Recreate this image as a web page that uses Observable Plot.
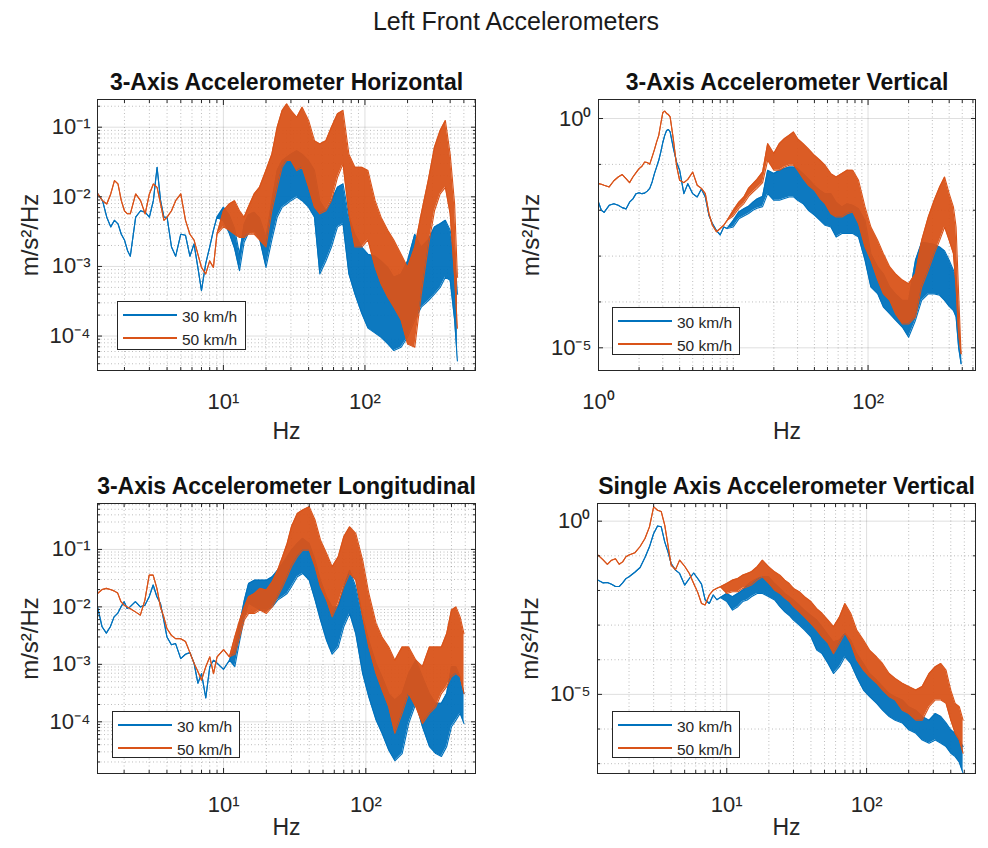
<!DOCTYPE html>
<html>
<head>
<meta charset="utf-8">
<script src="https://cdn.jsdelivr.net/npm/d3@7"></script>
<script src="https://cdn.jsdelivr.net/npm/@observablehq/plot@0.6"></script>
<style>
  html, body { margin: 0; padding: 0; background: #fff; }
  #page { position: relative; width: 988px; height: 848px; overflow: hidden; font-family: "Liberation Sans", Arial, Helvetica, sans-serif; color: #1a1a1a; }
  #title { position: absolute; left: 216px; width: 600px; top: 9px; text-align: center; font-size: 25px; line-height: 25px; }
  .panel { position: absolute; }
  .legend { position: absolute; box-sizing: border-box; border: 1px solid #262626; background: #fff; }
  .legend .sw { position: absolute; left: 5px; width: 54px; height: 1.6px; }
  .legend .lb { position: absolute; left: 64px; font-size: 15.5px; line-height: 16px; color: #262626; white-space: nowrap; }
</style>
</head>
<body>
<div id="page"><div id="title"></div></div>
<script>
// ---------- texts ----------
const figureTitle = "Left Front Accelerometers";
const panelTitles = ["3-Axis Accelerometer Horizontal", "3-Axis Accelerometer Vertical",
                     "3-Axis Accelerometer Longitudinal", "Single Axis Accelerometer Vertical"];
const seriesNames = ["30 km/h", "50 km/h"];
const seriesColors = ["#0072BD", "#D95319"];
const xLabel = "Hz";
const yLabel = "m/s²/Hz";

// ---------- tick values ----------
const xTicksHoriz = [10, 100];
const yTicksHoriz = [1e-1, 1e-2, 1e-3, 1e-4];
const xTicksVert = [1, 100];
const yTicksVert = [1, 1e-5];
const xTicksLong = [10, 100];
const yTicksLong = [1e-1, 1e-2, 1e-3, 1e-4];
const xTicksSingle = [10, 100];
const yTicksSingle = [1, 1e-5];

// ---------- data: PSD (m/s²/Hz), upper / lower envelope of the trace ----------
// Panel 1: 3-Axis Horizontal
const hzHoriz = [1.3,1.4,1.5,1.6,1.7,1.8,1.9,2.0,2.1,2.2, 2.4,2.6,2.8,3.0,3.2,3.4,3.6,3.8,4.0,
  4.3,4.6,5.0,5.4,5.8,6.2,6.6,7.0,7.5,8.0,8.5,9, 10,11,12,13,14,15,16.5,18,20,
  22,24,26,28,30,33,36,40,44,48, 53,58,64,70,77,85,95,105,118,130,
  145,160,180,200,225,250,280,310,340,370, 400,430,450];
const horiz30Hi = [0.011,0.0088,0.0051,0.0037,0.0046,0.0041,0.0029,0.0024,0.0017,0.0014,
  0.0051,0.0063,0.006,0.0051,0.0088,0.0266,0.0088,0.0051,0.0051,
  0.0019,0.0014,0.0029,0.0028,0.0014,0.0021,0.00097,0.00045,0.0011,0.0019,0.0033,0.0051,
  0.0071,0.0055,0.0035,0.0015,0.004,0.0055,0.006,0.005,0.0026,
  0.0088,0.024,0.033,0.037,0.041,0.046,0.041,0.033,0.024,0.0088,
  0.0063,0.0088,0.0137,0.0153,0.0051,0.0029,0.0019,0.0015,0.0014,0.0012,
  0.00097,0.0007,0.00078,0.0012,0.0029,0.0019,0.0024,0.0037,0.0041,0.0046,
  0.0033,0.0015,0.0004];
const horiz30Lo = [0.011,0.0088,0.0051,0.0037,0.0046,0.0041,0.0029,0.0024,0.0017,0.0014,
  0.0051,0.0063,0.006,0.0051,0.0088,0.0266,0.0088,0.0051,0.0051,
  0.0019,0.0014,0.0029,0.0028,0.0014,0.0021,0.00097,0.00045,0.0011,0.0019,0.0033,0.0051,
  0.0045,0.003,0.0018,0.00087,0.0022,0.003,0.0033,0.0025,0.00097,
  0.0024,0.0051,0.0071,0.0079,0.0088,0.0099,0.0088,0.0071,0.0051,0.00078,
  0.0012,0.0019,0.0037,0.0041,0.00078,0.0004,0.00021,0.00013,0.00011,0.000096,
  0.000077,0.000062,0.000069,0.000096,0.00017,0.00026,0.00032,0.0004,0.0005,0.0007,
  0.00063,0.00017,0.000044];
const horiz50Hi = [0.011,0.0088,0.0079,0.011,0.0171,0.0153,0.0088,0.0063,0.0057,0.0057,
  0.011,0.0088,0.0057,0.011,0.0153,0.0137,0.0079,0.0046,0.0051,
  0.0063,0.0088,0.011,0.0046,0.0029,0.0024,0.0015,0.00097,0.00078,0.0012,0.00097,0.0029,
  0.0063,0.0079,0.0088,0.0063,0.0051,0.0071,0.011,0.0137,0.024,
  0.041,0.1,0.174,0.216,0.174,0.139,0.194,0.125,0.064,0.0575,
  0.064,0.1,0.156,0.174,0.041,0.0266,0.0266,0.0238,0.0088,0.0051,
  0.0033,0.0024,0.0015,0.00097,0.0019,0.0057,0.0171,0.0516,0.0896,0.125,
  0.041,0.0079,0.0007];
const horiz50Lo = [0.011,0.0088,0.0079,0.011,0.0171,0.0153,0.0088,0.0063,0.0057,0.0057,
  0.011,0.0088,0.0057,0.011,0.0153,0.0137,0.0079,0.0046,0.0051,
  0.0063,0.0088,0.011,0.0046,0.0029,0.0024,0.0015,0.00097,0.00078,0.0012,0.00097,0.0029,
  0.0037,0.0033,0.0029,0.0026,0.0026,0.0029,0.0029,0.0024,0.0019,
  0.0063,0.0137,0.0266,0.0332,0.0332,0.0238,0.0266,0.0137,0.0071,0.0057,
  0.0063,0.0088,0.0191,0.0297,0.0057,0.0019,0.0019,0.0024,0.00097,0.00056,
  0.00036,0.00026,0.00017,0.000077,0.000069,0.0004,0.0019,0.0063,0.011,0.0137,
  0.0057,0.0007,0.00013];

// Panel 2: 3-Axis Vertical
const hzVert = [1.0,1.05,1.1,1.2,1.3,1.4,1.5,1.6,1.7,1.8, 1.9,2.0,2.1,2.2,2.3,2.4,2.5,2.6,2.7,2.8,
  2.9,3.0,3.1,3.2,3.3,3.4,3.6,3.8,4.0,4.3, 4.6,5.0,5.4,5.8,6.2,6.6,7.0,7.5,8.0,8.5,
  9,10,11,12,13,14,15,16.5, 18,20,22,24,26,28,30,33,36,40,
  44,48,53,58,64,70,77,85,95,105, 118,130,145,160,180,200,225,250,280,310,
  340,370,400,430,450,470,490];
const vert30Hi = [0.015,0.01,0.009,0.0128,0.0139,0.0128,0.0114,0.0107,0.015,0.0177,
  0.023,0.0241,0.023,0.0236,0.0262,0.03,0.0414,0.063,0.088,0.123,
  0.187,0.3,0.43,0.547,0.575,0.51,0.22,0.11,0.0745,0.023,
  0.038,0.023,0.0195,0.029,0.0195,0.0077,0.0051,0.0036,0.0029,0.0043,
  0.004,0.006,0.0092,0.0108,0.0122,0.015,0.0175,0.02,
  0.0745,0.063,0.0745,0.081,0.088,0.088,0.081,0.063,0.049,0.035,
  0.0272,0.023,0.023,0.015,0.0118,0.0139,0.0128,0.0108,0.006,0.00113,
  0.00058,0.00041,0.00021,0.00015,0.000108,0.000108,0.00081,0.002,0.0019,0.0018,
  0.00158,0.0013,0.00081,0.00049,0.00035,0.00004,0.0000045];
const vert30Lo = [0.015,0.01,0.009,0.0128,0.0139,0.0128,0.0114,0.0107,0.015,0.0177,
  0.023,0.0241,0.023,0.0236,0.0262,0.03,0.0414,0.063,0.088,0.123,
  0.187,0.3,0.43,0.547,0.575,0.51,0.22,0.11,0.0745,0.023,
  0.038,0.023,0.0195,0.029,0.0195,0.0077,0.0051,0.0036,0.0029,0.0043,
  0.004,0.0043,0.0065,0.0075,0.0085,0.01,0.011,0.012,
  0.023,0.0165,0.0165,0.018,0.0195,0.0195,0.0165,0.0139,0.01,0.0078,
  0.006,0.0047,0.0043,0.0026,0.0031,0.0031,0.0031,0.0026,0.00081,0.00021,
  0.00015,0.000077,0.000055,0.00004,0.000028,0.000017,0.00004,0.000108,0.00015,0.00015,
  0.00014,0.000108,0.00008,0.000065,0.000047,0.00001,0.0000045];
const vert50Hi = [0.0381,0.037,0.035,0.0322,0.044,0.053,0.06,0.049,0.04,0.053,
  0.066,0.081,0.091,0.113,0.11,0.101,0.146,0.21,0.31,0.43,
  0.78,1.35,1.45,1.29,1.22,1.09,0.336,0.092,0.045,0.04,
  0.047,0.068,0.035,0.03,0.023,0.0084,0.0047,0.0034,0.004,0.0047,
  0.006,0.01,0.015,0.0195,0.03,0.038,0.047,0.068,
  0.284,0.172,0.284,0.365,0.43,0.51,0.365,0.284,0.22,0.158,
  0.123,0.096,0.063,0.053,0.063,0.0745,0.0745,0.045,0.0118,0.0043,
  0.0022,0.00113,0.00058,0.00041,0.0003,0.00025,0.00041,0.0022,0.0071,0.0165,
  0.0322,0.053,0.023,0.0118,0.0043,0.00015,0.0000074];
const vert50Lo = [0.0381,0.037,0.035,0.0322,0.044,0.053,0.06,0.049,0.04,0.053,
  0.066,0.081,0.091,0.113,0.11,0.101,0.146,0.21,0.31,0.43,
  0.78,1.35,1.45,1.29,1.22,1.09,0.336,0.092,0.045,0.04,
  0.047,0.068,0.035,0.03,0.023,0.0084,0.0047,0.0034,0.004,0.0047,
  0.006,0.0075,0.011,0.014,0.02,0.025,0.03,0.04,
  0.123,0.0745,0.0745,0.088,0.096,0.096,0.0745,0.049,0.035,0.0272,
  0.018,0.0139,0.0084,0.0071,0.0071,0.0084,0.0092,0.0051,0.00158,0.00081,
  0.0003,0.00015,0.000108,0.000055,0.000033,0.000033,0.000047,0.00021,0.00049,0.00113,
  0.0022,0.0043,0.0022,0.00113,0.00021,0.00002,0.0000074];

// Panel 3: 3-Axis Longitudinal
const hzLong = [1.3,1.4,1.5,1.6,1.7,1.8,1.9,2.0,2.1,2.2, 2.4,2.6,2.8,3.0,3.2,3.4,3.6,3.8,4.0,
  4.3,4.6,5.0,5.4,5.8,6.2,6.6,7.0,7.5,8.0,8.5,9, 10,11,
  12,13,14,15,16.5,18,20,22, 24,26,28,30,33,36,40,44,48,53,
  58,64,70,77,85,95,105,118,130,145, 160,180,200,225,250,280,310,340,370,400,
  430,460,490];
const long30Hi = [0.01,0.0045,0.0035,0.0045,0.0067,0.0077,0.01,0.0123,0.0094,0.01,
  0.0123,0.01,0.0107,0.015,0.024,0.015,0.0115,0.0059,0.003,
  0.0022,0.0023,0.00126,0.0015,0.0016,0.00105,0.00047,0.00069,0.00026,0.00091,0.00118,0.00105,
  0.00082,0.00118,
  0.002,0.0052,0.0131,0.0256,0.0292,0.0292,0.0292,0.0334,
  0.0436,0.057,0.0745,0.097,0.127,0.156,0.127,0.0652,0.0292,0.015,
  0.01,0.01,0.0224,0.0436,0.0224,0.0067,0.0026,0.00105,0.00061,0.00031,
  0.00024,0.00031,0.00069,0.00118,0.00061,0.00031,0.00021,0.00021,0.00031,0.00091,
  0.00091,0.00061,0.00031];
const long30Lo = [0.01,0.0045,0.0035,0.0045,0.0067,0.0077,0.01,0.0123,0.0094,0.01,
  0.0123,0.01,0.0107,0.015,0.024,0.015,0.0115,0.0059,0.003,
  0.0022,0.0023,0.00126,0.0015,0.0016,0.00105,0.00047,0.00069,0.00026,0.00091,0.00118,0.00105,
  0.00082,0.00118,
  0.00091,0.0026,0.0067,0.0115,0.01,0.0088,0.0088,0.01,
  0.0131,0.015,0.0171,0.0224,0.0334,0.0382,0.0292,0.0131,0.0059,0.0026,
  0.0015,0.002,0.0045,0.0077,0.0034,0.00069,0.00027,0.000107,0.000063,0.000032,
  0.000021,0.000028,0.000093,0.00021,0.000082,0.000037,0.000028,0.000025,0.000037,0.000082,
  0.000107,0.00014,0.000093];
const long50Hi = [0.0171,0.02,0.021,0.02,0.019,0.0175,0.0123,0.0107,0.01,0.0094,
  0.0082,0.0072,0.0131,0.0357,0.0357,0.021,0.01,0.0067,0.0042,
  0.0032,0.0028,0.0028,0.0025,0.0016,0.00105,0.00075,0.00053,0.00091,0.00135,0.00069,0.00135,
  0.0018,0.00135,
  0.003,0.0059,0.01,0.015,0.0171,0.021,0.0196,0.0274,
  0.0436,0.0745,0.127,0.248,0.424,0.484,0.553,0.324,0.146,0.0851,
  0.0499,0.0745,0.166,0.248,0.19,0.0652,0.0171,0.0052,0.003,0.002,
  0.00118,0.002,0.002,0.00118,0.00091,0.002,0.002,0.002,0.0034,0.0088,
  0.01,0.0067,0.0034];
const long50Lo = [0.0171,0.02,0.021,0.02,0.019,0.0175,0.0123,0.0107,0.01,0.0094,
  0.0082,0.0072,0.0131,0.0357,0.0357,0.021,0.01,0.0067,0.0042,
  0.0032,0.0028,0.0028,0.0025,0.0016,0.00105,0.00075,0.00053,0.00091,0.00135,0.00069,0.00135,
  0.0018,0.00135,
  0.0015,0.003,0.0059,0.0077,0.0077,0.0088,0.0077,0.01,
  0.015,0.0224,0.0334,0.0499,0.0745,0.097,0.097,0.0499,0.0224,0.0131,
  0.0067,0.0115,0.0224,0.0382,0.0292,0.0067,0.002,0.00069,0.00036,0.00018,
  0.000063,0.00014,0.00031,0.00018,0.000093,0.00014,0.00018,0.00031,0.00041,0.00061,
  0.00069,0.00061,0.00031];

// Panel 4: Single Axis Vertical
const hzSingle = [1.2,1.3,1.4,1.5,1.6,1.7,1.8,1.9,2.0,2.2, 2.4,2.6,2.8,3.0,3.2,3.4,3.6,3.8,4.0,4.3,
  4.6,5.0,5.4,5.8,6.2,6.6,7.0,7.5,8.0,8.5, 9, 10,11,12,13,14,15,16.5,18,20,
  22,24,26,28,30,33,36,40,44,48, 53,58,64,70,77,85,95,105,118,130,
  145,160,180,200,225,250,280,310,340,370, 400,430,460,490];
const single30Hi = [0.0199,0.0166,0.017,0.0152,0.013,0.013,0.0166,0.022,0.0248,0.0335,
  0.046,0.09,0.182,0.441,0.73,0.687,0.254,0.13,0.06,0.0386,
  0.031,0.0143,0.0222,0.032,0.0222,0.0152,0.0054,0.0042,0.0074,0.0054,
  0.0063,
  0.0082,0.0066,0.0082,0.0102,0.0143,0.0178,0.0222,0.0248,0.0248,
  0.0159,0.0115,0.0082,0.0066,0.0053,0.0038,0.0027,0.0019,0.0014,0.0009,
  0.00052,0.00033,0.00037,0.00058,0.00037,0.00015,0.000078,0.00004,0.000026,0.000017,
  0.0000107,0.0000086,0.0000069,0.0000044,0.0000035,0.0000023,0.0000018,0.0000028,0.0000023,0.0000015,
  0.00000095,0.00000075,0.00000048,0.00000031];
const single30Lo = [0.0199,0.0166,0.017,0.0152,0.013,0.013,0.0166,0.022,0.0248,0.0335,
  0.046,0.09,0.182,0.441,0.73,0.687,0.254,0.13,0.06,0.0386,
  0.031,0.0143,0.0222,0.032,0.0222,0.0152,0.0054,0.0042,0.0074,0.0054,
  0.0063,
  0.0048,0.0027,0.0034,0.0048,0.0053,0.0066,0.0082,0.0082,0.0066,
  0.0053,0.0034,0.0024,0.0019,0.0014,0.001,0.00072,0.00046,0.00019,0.00015,
  0.000078,0.00004,0.000063,0.00012,0.000078,0.000032,0.0000133,0.0000086,0.0000055,0.0000035,
  0.0000023,0.0000018,0.0000015,0.00000095,0.00000075,0.00000048,0.00000039,0.00000048,0.00000039,0.00000031,
  0.0000002,0.00000016,0.00000011,0.000000053];
const single50Hi = [0.105,0.078,0.057,0.075,0.082,0.057,0.067,0.094,0.105,0.122,
  0.186,0.316,0.687,2.6,2.07,1.9,0.767,0.2,0.054,0.04,
  0.075,0.05,0.031,0.0159,0.0088,0.0042,0.0038,0.0074,0.0102,0.0115,
  0.0128,
  0.0159,0.0199,0.0222,0.0277,0.0309,0.0345,0.0482,0.075,0.0482,
  0.0345,0.0277,0.0199,0.0159,0.0115,0.0092,0.0066,0.0048,0.003,0.0022,
  0.0014,0.0009,0.0017,0.0042,0.0022,0.00072,0.00037,0.00019,0.00012,0.000078,
  0.00004,0.000029,0.000021,0.000017,0.0000133,0.000017,0.00004,0.000063,0.000078,0.00005,
  0.0000133,0.0000055,0.0000044,0.0000018];
const single50Lo = [0.105,0.078,0.057,0.075,0.082,0.057,0.067,0.094,0.105,0.122,
  0.186,0.316,0.687,2.6,2.07,1.9,0.767,0.2,0.054,0.04,
  0.075,0.05,0.031,0.0159,0.0088,0.0042,0.0038,0.0074,0.0102,0.0115,
  0.0128,
  0.0082,0.0092,0.0092,0.0115,0.0128,0.0143,0.0199,0.0248,0.0159,
  0.0102,0.0082,0.006,0.0048,0.0034,0.0024,0.0017,0.0011,0.00072,0.00046,
  0.0003,0.00015,0.0003,0.00058,0.0003,0.000098,0.00005,0.000032,0.000021,0.0000133,
  0.0000086,0.0000069,0.0000035,0.0000028,0.0000018,0.0000018,0.0000044,0.0000069,0.0000069,0.0000055,
  0.0000018,0.00000075,0.00000048,0.0000002];

// ---------- layout (positions only) ----------
const panels = [
  {title: panelTitles[0], hz: hzHoriz, s: [[horiz30Hi, horiz30Lo], [horiz50Hi, horiz50Lo]],
   xTicks: xTicksHoriz, yTicks: yTicksHoriz, yMinorAll: true,
   xDomain: [1.29, 604], yDomain: [3.2e-5, 0.25],
   box: {left: 0, top: 55, width: 494, height: 405, mt: 44, mr: 19, mb: 90, ml: 97},
   xLabelDy: 61, legend: {left: 117, top: 301, width: 129, height: 49}},
  {title: panelTitles[1], hz: hzVert, s: [[vert30Hi, vert30Lo], [vert50Hi, vert50Lo]],
   xTicks: xTicksVert, yTicks: yTicksVert, yMinorAll: false,
   xDomain: [1, 627], yDomain: [3.2e-6, 2.6],
   box: {left: 494, top: 55, width: 494, height: 405, mt: 44, mr: 13, mb: 90, ml: 104},
   xLabelDy: 61, legend: {left: 612, top: 307, width: 128, height: 48}},
  {title: panelTitles[2], hz: hzLong, s: [[long30Hi, long30Lo], [long50Hi, long50Lo]],
   xTicks: xTicksLong, yTicks: yTicksLong, yMinorAll: true,
   xDomain: [1.3, 590], yDomain: [1.26e-5, 0.63],
   box: {left: 0, top: 460, width: 494, height: 388, mt: 43, mr: 19, mb: 75, ml: 97},
   xLabelDy: 54, legend: {left: 112, top: 711, width: 128, height: 47}},
  {title: panelTitles[3], hz: hzSingle, s: [[single30Hi, single30Lo], [single50Hi, single50Lo]],
   xTicks: xTicksSingle, yTicks: yTicksSingle, yMinorAll: false,
   xDomain: [1.19, 601], yDomain: [5.2e-8, 3.24],
   box: {left: 494, top: 460, width: 494, height: 388, mt: 43, mr: 13, mb: 75, ml: 103},
   xLabelDy: 54, legend: {left: 612, top: 711, width: 128, height: 47}}
];

const supMap = {"-": "⁻", "0": "⁰", "1": "¹", "2": "²", "3": "³", "4": "⁴", "5": "⁵", "6": "⁶", "7": "⁷", "8": "⁸", "9": "⁹"};
const powerLabel = d => "10" + String(Math.round(Math.log10(d))).split("").map(c => supMap[c]).join("");

function logMinor(domain, major, allDigits) {
  const out = [];
  const lo = Math.floor(Math.log10(domain[0])), hi = Math.ceil(Math.log10(domain[1]));
  for (let n = lo; n <= hi; n++) {
    for (let k = 1; k <= (allDigits ? 9 : 1); k++) {
      const v = k * Math.pow(10, n);
      if (v >= domain[0] && v <= domain[1] && !major.some(m => Math.abs(m - v) / v < 1e-9)) out.push(v);
    }
  }
  return out;
}

const page = document.getElementById("page");
document.getElementById("title").textContent = figureTitle;
const ink = "#262626";
const font = "'Liberation Sans', Arial, Helvetica, sans-serif";

panels.forEach(p => {
  const rows = p.hz.map((f, i) => ({f, hi0: p.s[0][0][i], lo0: p.s[0][1][i], hi1: p.s[1][0][i], lo1: p.s[1][1][i]}));
  const xMinor = logMinor(p.xDomain, p.xTicks, true);
  const yMinor = logMinor(p.yDomain, p.yTicks, p.yMinorAll);
  const seriesMarks = [0, 1].flatMap(k => [
    Plot.areaY(rows, {x: "f", y1: "lo" + k, y2: "hi" + k, fill: seriesColors[k], fillOpacity: 0.95, clip: true}),
    Plot.line(rows, {x: "f", y: "hi" + k, stroke: seriesColors[k], strokeWidth: 1.1, clip: true}),
    Plot.line(rows, {x: "f", y: "lo" + k, stroke: seriesColors[k], strokeWidth: 1.1, clip: true})
  ]);
  const b = p.box;
  const chart = Plot.plot({
    width: b.width, height: b.height,
    marginTop: b.mt, marginRight: b.mr, marginBottom: b.mb, marginLeft: b.ml,
    style: {fontFamily: font, color: ink, background: "transparent", overflow: "visible"},
    x: {type: "log", domain: p.xDomain},
    y: {type: "log", domain: p.yDomain},
    marks: [
      Plot.gridX(xMinor, {stroke: ink, strokeOpacity: 0.3, strokeDasharray: "1,2.5"}),
      Plot.gridY(yMinor, {stroke: ink, strokeOpacity: 0.3, strokeDasharray: "1,2.5"}),
      Plot.gridX(p.xTicks, {stroke: ink, strokeOpacity: 0.15}),
      Plot.gridY(p.yTicks, {stroke: ink, strokeOpacity: 0.15}),
      ...seriesMarks,
      Plot.frame({stroke: ink, strokeWidth: 1}),
      Plot.axisX(p.xTicks, {anchor: "bottom", tickSize: 0, tickPadding: 23, fontSize: 22, tickFormat: powerLabel, label: null}),
      Plot.axisY(p.yTicks, {anchor: "left", tickSize: 0, tickPadding: 7, fontSize: 22, tickFormat: powerLabel, label: null}),
      Plot.axisX(p.xTicks, {anchor: "bottom", tickSize: -5, tickFormat: () => "", label: null}),
      Plot.axisX(p.xTicks, {anchor: "top", tickSize: -5, tickFormat: () => "", label: null}),
      Plot.axisY(p.yTicks, {anchor: "left", tickSize: -5, tickFormat: () => "", label: null}),
      Plot.axisY(p.yTicks, {anchor: "right", tickSize: -5, tickFormat: () => "", label: null}),
      Plot.axisX(xMinor, {anchor: "bottom", tickSize: -3, tickFormat: () => "", label: null}),
      Plot.axisX(xMinor, {anchor: "top", tickSize: -3, tickFormat: () => "", label: null}),
      Plot.axisY(yMinor, {anchor: "left", tickSize: -3, tickFormat: () => "", label: null}),
      Plot.axisY(yMinor, {anchor: "right", tickSize: -3, tickFormat: () => "", label: null}),
      Plot.text([p.title], {text: d => d, frameAnchor: "top", lineAnchor: "middle", textAnchor: "middle", dy: -17, fontSize: 23, fontWeight: "bold", fill: "#111"}),
      Plot.text([xLabel], {text: d => d, frameAnchor: "bottom", lineAnchor: "middle", textAnchor: "middle", dy: p.xLabelDy, fontSize: 23, fill: ink}),
      Plot.text([yLabel], {text: d => d, frameAnchor: "left", lineAnchor: "middle", textAnchor: "middle", dx: -67, rotate: -90, fontSize: 24, fill: ink})
    ]
  });
  chart.classList.add("panel");
  chart.style.left = b.left + "px";
  chart.style.top = b.top + "px";
  page.appendChild(chart);

  // legend box inside the axes
  const L = p.legend;
  const lg = document.createElement("div");
  lg.className = "legend";
  Object.assign(lg.style, {left: L.left + "px", top: L.top + "px", width: L.width + "px", height: L.height + "px"});
  seriesNames.forEach((name, k) => {
    const sw = document.createElement("div");
    sw.className = "sw";
    sw.style.top = (k === 0 ? 12 : 35) + "px";
    sw.style.background = seriesColors[k];
    const lb = document.createElement("div");
    lb.className = "lb";
    lb.style.top = (k === 0 ? 7 : 30) + "px";
    lb.textContent = name;
    lg.appendChild(sw);
    lg.appendChild(lb);
  });
  page.appendChild(lg);
});
</script>
</body>
</html>
